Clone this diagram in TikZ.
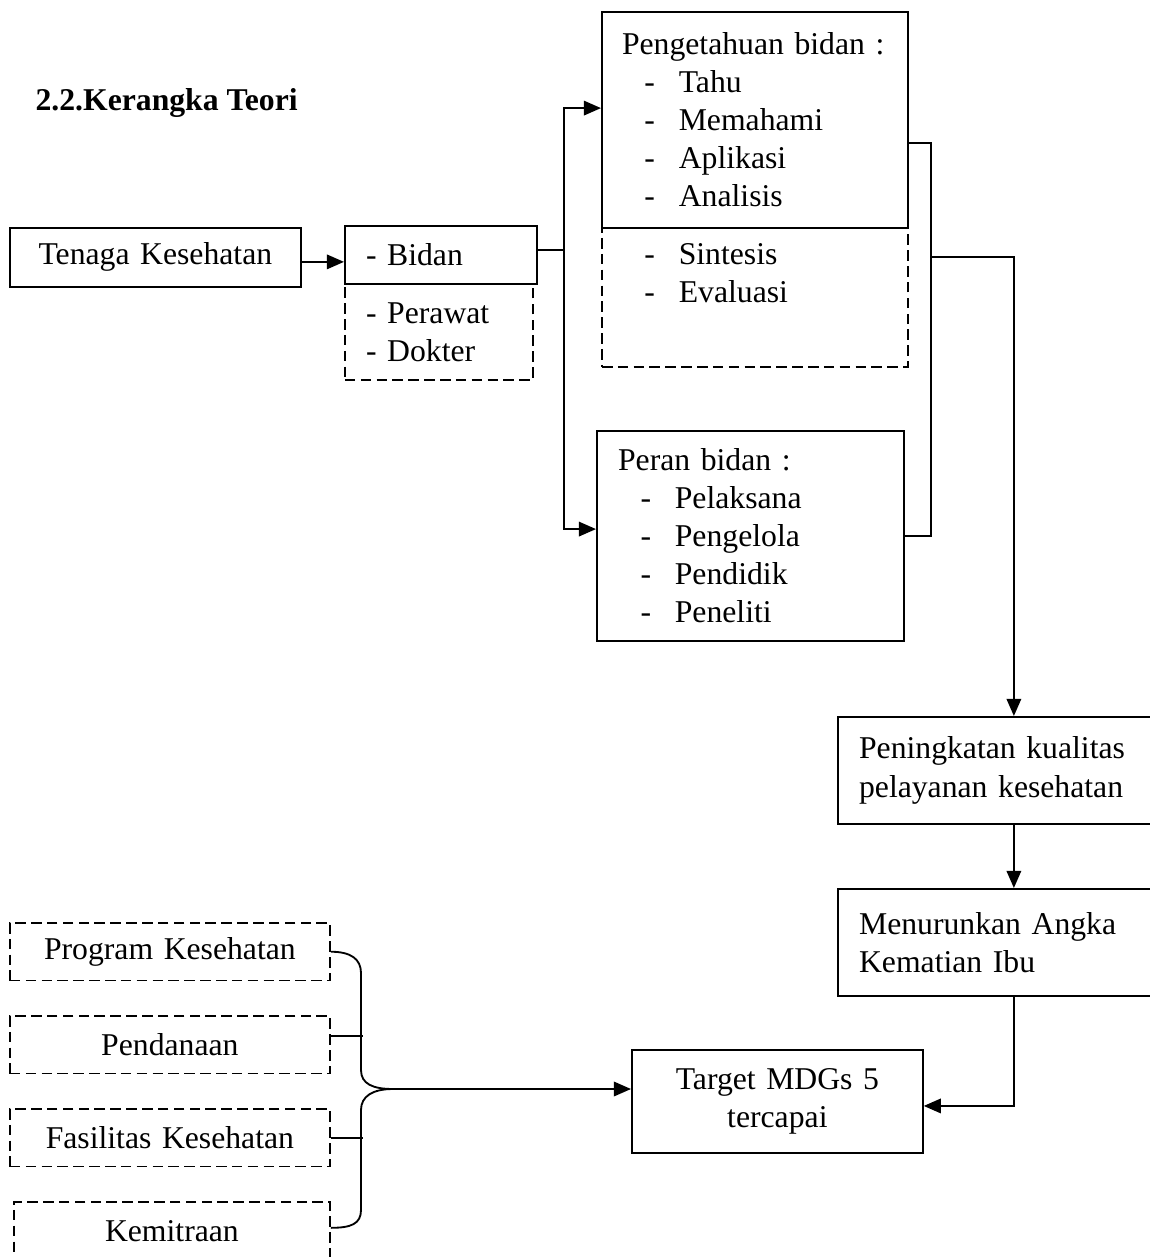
\documentclass[tikz,border=0pt]{standalone}
\usepackage{fontspec}
\setmainfont{Liberation Serif}
\usetikzlibrary{arrows.meta}
\newcommand{\butir}[1]{\hspace*{8.5pt}\makebox[13pt][l]{-}#1}
\tikzset{
  kotak/.style={draw,line width=0.7pt,rectangle,anchor=north west,inner xsep=0pt,inner ysep=0pt,font=\fontsize{12pt}{14.4pt}\selectfont},
  putus/.style={kotak,dash pattern=on 4pt off 2pt},
  garis/.style={line width=0.7pt},
  panah/.style={garis,-{Triangle[length=6.5pt,width=5.5pt]}}
}
\begin{document}
\begin{tikzpicture}[x=0.3785pt,y=-0.3785pt]
\useasboundingbox (0,0) rectangle (1150,1257);
\clip (0,0) rectangle (1150,1257);

\node[font=\fontsize{12pt}{14.4pt}\selectfont\bfseries,anchor=west,inner sep=0pt] (judul) at (35,103) {2.2.Kerangka Teori};

\node[kotak,text width=110.1pt,minimum height=22.3pt,align=center] (tenaga) at (9,227) {Tenaga Kesehatan};
\node[putus,inner xsep=8pt,text width=55.2pt,minimum height=36.3pt,align=left] (perawat) at (344,283) {- Perawat\\- Dokter};
\node[kotak,inner xsep=8pt,text width=56.7pt,minimum height=22pt,align=left] (bidan) at (344,225) {- Bidan};

\node[putus,inner xsep=7.6pt,text width=100.6pt,minimum height=52.6pt,align=left] (sintesis) at (601,227) {\butir{Sintesis}\\\butir{Evaluasi}\\\strut};
\node[kotak,inner xsep=7.6pt,text width=100.6pt,minimum height=81.8pt,align=left] (pengetahuan) at (601,11) {Pengetahuan bidan :\\\butir{Tahu}\\\butir{Memahami}\\\butir{Aplikasi}\\\butir{Analisis}};
\node[kotak,inner xsep=8pt,text width=100.2pt,minimum height=79.5pt,align=left] (peran) at (596,430) {Peran bidan :\\\butir{Pelaksana}\\\butir{Pengelola}\\\butir{Pendidik}\\\butir{Peneliti}};

\node[kotak,inner xsep=8pt,text width=117.2pt,minimum height=40.5pt,align=left] (peningkatan) at (837,716) {Peningkatan kualitas\\pelayanan kesehatan};
\node[kotak,inner xsep=8pt,text width=117.2pt,minimum height=40.5pt,align=left] (menurunkan) at (837,888) {Menurunkan Angka\\Kematian Ibu};
\node[kotak,text width=110.1pt,minimum height=39pt,align=center] (target) at (631,1049) {Target MDGs 5\\tercapai};

\node[putus,text width=121.1pt,minimum height=21.8pt,align=center] (program) at (9,922) {Program Kesehatan};
\node[putus,text width=121.1pt,minimum height=21.8pt,align=center] (pendanaan) at (9,1015) {Pendanaan};
\node[putus,text width=121.1pt,minimum height=21.8pt,align=center] (fasilitas) at (9,1108) {Fasilitas Kesehatan};
\node[putus,text width=119.6pt,minimum height=21.8pt,align=center] (kemitraan) at (13,1201) {Kemitraan};

\draw[panah] ([yshift=-1.7pt]tenaga.east) -- ([yshift=-1.7pt]tenaga.east -| bidan.west);
\coordinate (cabang) at (564,250);
\draw[garis] (bidan.east |- cabang) -- (cabang);
\draw[panah] (cabang) |- ([yshift=4.5pt]pengetahuan.west);
\draw[panah] (cabang) |- ([yshift=2.6pt]peran.west);

\coordinate (gabung) at (931,257);
\draw[garis] ([yshift=-8.7pt]pengetahuan.east) -| (gabung) |- (peran.east);
\draw[panah] (gabung) -| (peningkatan.north);
\draw[panah] (peningkatan) -- (menurunkan);
\draw[panah] (menurunkan.south) |- ([yshift=-1.7pt]target.east);

\coordinate (temu) at (393,1089);
\draw[garis] (program.east) .. controls +(20,0) and +(0,-14) .. (361,973) -- (361,1070) .. controls +(0,14) and +(-20,0) .. (temu);
\draw[garis] (temu) .. controls +(-20,0) and +(0,-14) .. (361,1110) -- (361,1210) .. controls +(0,14) and +(20,0) .. ([yshift=1.1pt]kemitraan.east);
\draw[garis] ([yshift=3.4pt]pendanaan.east) -- ++(32,0);
\draw[garis] (fasilitas.east) -- ++(32,0);
\draw[panah] (temu) -- (temu -| target.west);

\end{tikzpicture}
\end{document}
